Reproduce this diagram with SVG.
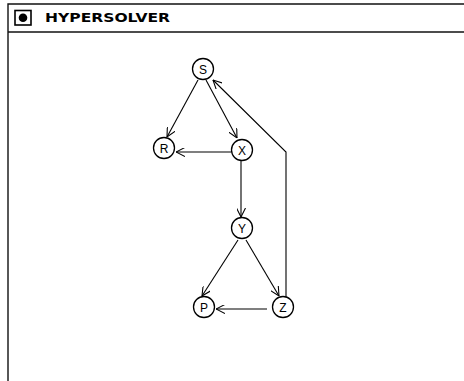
<svg xmlns="http://www.w3.org/2000/svg" width="464" height="381" viewBox="0 0 464 381">
<defs>
<marker id="arr" viewBox="0 0 10 10" refX="10" refY="5" markerWidth="9" markerHeight="9" markerUnits="userSpaceOnUse" orient="auto">
<path d="M0,0 L10,5 L0,10" fill="none" stroke="#000" stroke-width="1.2"/>
</marker>
<style>
.frame{fill:none;stroke:#111;stroke-width:1.4}
.node circle{fill:#fff;stroke:#000;stroke-width:1.3}
.node text{font-family:"Liberation Sans",Arial,sans-serif;font-size:12px;fill:#000;text-anchor:middle}
.edge{fill:none;stroke:#000;stroke-width:1.1;marker-end:url(#arr)}
.title{font-family:"DejaVu Sans",Arial,sans-serif;font-weight:bold;font-size:13px;fill:#000}
</style>
</defs>
<rect width="464" height="381" fill="#fff"/>
<g id="window">
<path class="frame" d="M8,381 L8,4 L464,4"/>
<line class="frame" x1="8" y1="32" x2="464" y2="32"/>
<rect x="15" y="10.5" width="16" height="14.5" fill="none" stroke="#000" stroke-width="1.6"/>
<circle cx="23" cy="17.8" r="4.3" fill="#000"/>
<text class="title" x="45" y="22" textLength="125" lengthAdjust="spacingAndGlyphs">HYPERSOLVER</text>
</g>
<g id="connectors">
<line class="edge" x1="198" y1="80" x2="167" y2="137"/>
<line class="edge" x1="206" y1="80" x2="237" y2="138"/>
<line class="edge" x1="231" y1="152" x2="176" y2="152"/>
<line class="edge" x1="241" y1="161" x2="241" y2="217"/>
<line class="edge" x1="238" y1="240" x2="202" y2="296"/>
<line class="edge" x1="246" y1="240" x2="279" y2="296"/>
<line class="edge" x1="267" y1="309" x2="216" y2="309"/>
<path class="edge" d="M286,297 L286,152 L213,80"/>
</g>
<g id="node-S" class="node"><circle cx="203" cy="69" r="10.5"/><text x="203" y="73.5">S</text></g>
<g id="node-R" class="node"><circle cx="164" cy="148" r="10.5"/><text x="164" y="152.5">R</text></g>
<g id="node-X" class="node"><circle cx="242" cy="150" r="10.5"/><text x="242" y="154.5">X</text></g>
<g id="node-Y" class="node"><circle cx="242" cy="228" r="10.5"/><text x="242" y="232.5">Y</text></g>
<g id="node-P" class="node"><circle cx="204" cy="307" r="10.5"/><text x="204" y="311.5">P</text></g>
<g id="node-Z" class="node"><circle cx="283" cy="307" r="10.5"/><text x="283" y="311.5">Z</text></g>
</svg>
